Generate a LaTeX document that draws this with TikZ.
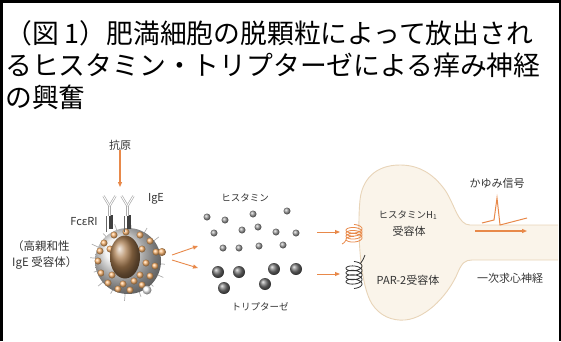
\documentclass[tikz,border=0pt]{standalone}
\usepackage{fontspec}
\newfontfamily\jp{Noto Sans CJK JP}
\usetikzlibrary{arrows.meta, positioning, shapes.geometric}
\definecolor{flowor}{HTML}{E8894A}
\definecolor{somabg}{HTML}{FAF4EA}
\definecolor{somaln}{HTML}{E8D4B8}
\definecolor{lbltxt}{HTML}{333333}
\tikzset{
  ttl/.style  ={anchor=west, inner sep=0pt, font=\jp\fontsize{26.8}{32}\selectfont},
  lbl/.style  ={inner sep=0pt, text=lbltxt, font=\jp\fontsize{11}{16}\selectfont},
  kana/.style ={inner sep=0pt, text=lbltxt, font=\jp\fontsize{9.5}{12}\selectfont},
  flow/.style ={-{Triangle[length=5pt,width=4pt]}, draw=flowor, line width=1.1pt},
  gran/.style ={circle, inner sep=0pt, minimum size=7pt, shading=ball, ball color=orange!55},
  hist/.style ={circle, inner sep=0pt, minimum size=7pt, shading=ball, ball color=gray!75},
  tryp/.style ={circle, inner sep=0pt, minimum size=12pt, shading=ball, ball color=black!55},
  igy/.style  ={draw=gray!65, double=white, double distance=0.9pt, line width=0.7pt},
  spring/.style={line width=0.8pt, smooth, samples=140, variable=\t},
}

\begin{document}
\begin{tikzpicture}[x=1pt, y=-1pt]
  \useasboundingbox (0,0) rectangle (561,341);
  \draw[line width=2.5pt] (1.25,341) -- (1.25,1.25) -- (559.75,1.25) -- (559.75,341);

  % title
  \node[ttl] (t1) at (5,33) {（図 1）肥満細胞の脱顆粒によって放出され};
  \node[ttl] (t2) at (5,65) {るヒスタミン・トリプターゼによる痒み神経};
  \node[ttl] (t3) at (5,97) {の興奮};

  % primary afferent: soma and axon
  \path[draw=somaln, fill=somabg, line width=0.9pt]
    (558,225) -- (470,225)
    .. controls (458,225) and (455,205) .. (445,190)
    .. controls (432,172) and (417,165) .. (400,165)
    .. controls (375,165) and (362,180) .. (360,200)
    .. controls (357,230) and (360,285) .. (372,304)
    .. controls (380,316) and (392,321) .. (405,320)
    .. controls (428,318) and (450,292) .. (458,272)
    .. controls (462,263) and (465,260) .. (472,260) -- (558,260);

  % mast cell
  \foreach \a/\l in {5/6,25/8,45/5,70/7,95/9,118/6,140/8,162/5,185/7,205/9,
                     228/6,250/8,275/5,300/7,322/8,345/6}
    \draw[gray!65, line width=0.7pt] (128,261) ++(\a:31) -- ++(\a:\l);
  \node[circle, minimum size=66pt, shading=ball, ball color=gray!12] (cell) at (128,261) {};
  \begin{scope}[shift={(128,261)}]
    \foreach \x/\y [count=\i] in {-24/-18,-14/-26,-2/-29,12/-26,22/-20,28/-9,27/5,
                                  22/15,14/24,2/29,-10/28,-20/22,-27/12,-30/0,-28/-10,
                                  -18/-12,14/-12,18/2,12/14,-16/14,6/20,-5/23}
      \node[gran] (g\i) at (\x,\y) {};
    \node[gran, minimum size=8pt] (gout) at (34,-9) {};
    \node[circle, inner sep=0pt, minimum size=9pt, shading=ball, ball color=white] (vac) at (19,29) {};
  \end{scope}
  \node[ellipse, minimum width=30pt, minimum height=43pt, shading=ball,
        ball color=brown!70!gray] (nuc) at (125,257) {};

  % IgE on the Fc receptor
  \foreach \s [count=\i] in {108.5,126.5}{
    \draw[black!60, line width=0.8pt] (\s-2,216) -- (\s-2,232);
    \fill[black!75] (\s,215) rectangle (\s+4.5,229);
    \draw[igy] (\s+1,216) -- (\s+1,206) coordinate (y\i);
    \draw[igy] (y\i) -- ++(-6,-10);
    \draw[igy] (y\i) -- ++(6,-10);
  }

  \node[lbl] (antigen) at (120,145) {抗原};
  \coordinate (agtip) at (120,187);
  \draw[flow] (antigen) -- (agtip);
  \node[lbl] (ige) at (156,199) {IgE};
  \node[lbl] (fce) at (84,222) {FcεRI};
  \node[lbl, anchor=west, align=left, font=\jp\fontsize{11.5}{16}\selectfont]
    (hiaff) at (12,255) {（高親和性\\IgE 受容体）};

  % release
  \coordinate (c1s) at (172,255); \coordinate (c1e) at (198,246);
  \coordinate (c2s) at (172,260); \coordinate (c2e) at (198,268);
  \draw[flow, line width=0.9pt] (c1s) -- (c1e);
  \draw[flow, line width=0.9pt] (c2s) -- (c2e);

  % histamine
  \node[kana] (histlbl) at (245,198) {ヒスタミン};
  \foreach \x/\y [count=\i] in {207/217,225/220,253/214,287/211,214/233,242/230,
                                258/227,276/232,296/233,223/248,239/248,259/246,283/245}
    \node[hist] (h\i) at (\x,\y) {};

  % tryptase
  \foreach \x/\y [count=\i] in {218/272,239/272,274/269,296/269,224/288,265/284}
    \node[tryp] (p\i) at (\x,\y) {};
  \node[kana] (tryplbl) at (260,307) {トリプターゼ};

  % receptors on the ending
  \coordinate (r1s) at (317,232); \coordinate (r1e) at (340,232);
  \coordinate (r2s) at (317,274); \coordinate (r2e) at (340,274);
  \draw[flow, line width=0.9pt] (r1s) -- (r1e);
  \draw[flow, line width=0.9pt] (r2s) -- (r2e);
  \draw[spring, flowor] plot[domain=0:1440] ({354+8*sin(\t)}, {228+12*(\t/1440)-3.5*cos(\t)});
  \draw[flowor, line width=0.8pt] (346,240) .. controls (344,243) .. (342,244);
  \draw[black!80, line width=0.8pt] (360,264) .. controls (363,260) and (364,258) .. (365,255);
  \draw[spring, black!80] plot[domain=0:1620] ({354+8*sin(\t)}, {265+20*(\t/1620)-3.5*cos(\t)});

  \node[kana] (h1lbl) at (408,215) {ヒスタミンH\textsubscript{1}};
  \node[lbl] (h1rec) at (409,231) {受容体};
  \node[lbl] (parlbl) at (408,280) {PAR-2受容体};

  % itch signal along the axon
  \node[lbl] (itch) at (497,183) {かゆみ信号};
  \draw[flowor, line width=1pt] (482,223) -- (494,220) -- (497,198) -- (500,225) -- (527,218);
  \coordinate (sgs) at (475,231); \coordinate (sge) at (527,231);
  \draw[flow] (sgs) -- (sge);
  \node[lbl] (afferent) at (510,278) {一次求心神経};
\end{tikzpicture}
\end{document}
